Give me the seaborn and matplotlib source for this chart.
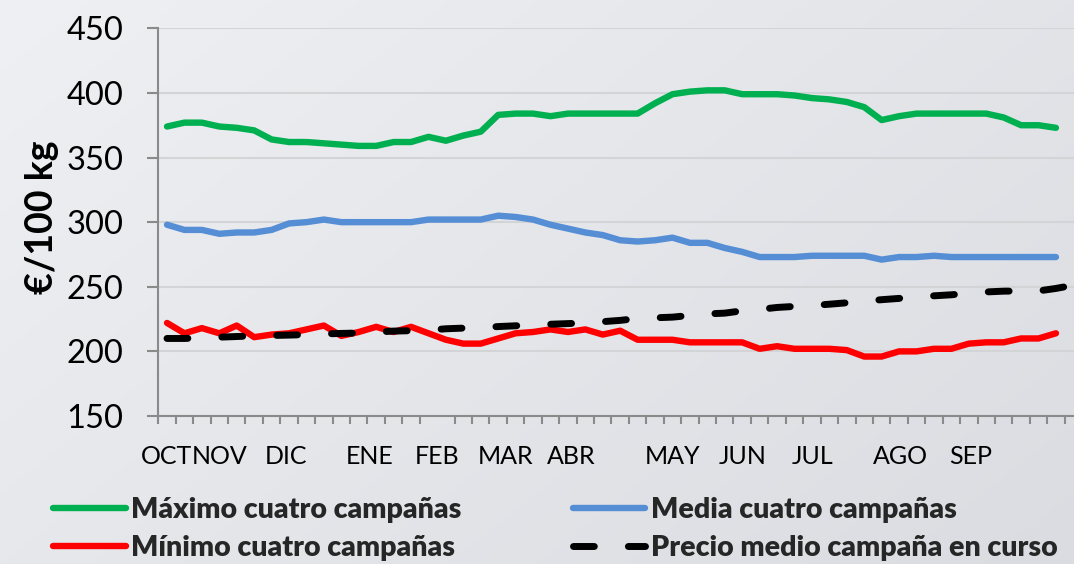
import numpy as np
import pandas as pd
import matplotlib
matplotlib.use("Agg")
import matplotlib.pyplot as plt
import seaborn as sns

# ---------------- data ----------------
meses = ["OCT", "NOV", "DIC", "ENE", "FEB", "MAR", "ABR", "MAY", "JUN", "JUL", "AGO", "SEP"]
pos_meses = [-0.05, 3.0, 6.8, 11.65, 15.5, 19.4, 23.2, 29.0, 33.05, 37.05, 42.1, 46.1]

maximo = [374, 377, 377, 374, 373, 371, 364, 362, 362, 361,
          360, 359, 359, 362, 362, 366, 363, 367, 370, 383,
          384, 384, 382, 384, 384, 384, 384, 384, 392, 399,
          401, 402, 402, 399, 399, 399, 398, 396, 395, 393,
          389, 379, 382, 384, 384, 384, 384, 384, 381, 375,
          375, 373]
media = [298, 294, 294, 291, 292, 292, 294, 299, 300, 302,
         300, 300, 300, 300, 300, 302, 302, 302, 302, 305,
         304, 302, 298, 295, 292, 290, 286, 285, 286, 288,
         284, 284, 280, 277, 273, 273, 273, 274, 274, 274,
         274, 271, 273, 273, 274, 273, 273, 273, 273, 273,
         273, 273]
minimo = [222, 214, 218, 214, 220, 211, 213, 214, 217, 220,
          212, 215, 219, 215, 219, 214, 209, 206, 206, 210,
          214, 215, 217, 215, 217, 213, 216, 209, 209, 209,
          207, 207, 207, 207, 202, 204, 202, 202, 202, 201,
          196, 196, 200, 200, 202, 202, 206, 207, 207, 210,
          210, 214]
en_curso = [210, 210, 210.5, 211, 211.5, 212, 212.3, 212.6, 213, 213.5,
            213.9, 214.2, 215, 215.7, 216, 216.5, 217.5, 218, 218.5, 219.2,
            219.8, 220.5, 221, 221.5, 222, 223, 224, 225.5, 226, 226.5,
            227.8, 229, 229.6, 231.4, 232.5, 234, 234.8, 235.5, 236.5, 237.6,
            238.9, 240, 241, 242.2, 243, 243.8, 245, 246, 246.6, 246.7,
            246.8, 248.7, 251.2]

labels = ["Máximo cuatro campañas", "Media cuatro campañas",
          "Mínimo cuatro campañas", "Precio medio campaña en curso"]
y_ticks = [150, 200, 250, 300, 350, 400, 450]

# ---------------- style ----------------
sns.set_style("white")
plt.rcParams['font.family'] = ['Lato', 'DejaVu Sans']

W, H = 1074, 564
fig = plt.figure(figsize=(W / 100, H / 100), dpi=100)

# gradient background
bg = fig.add_axes([0, 0, 1, 1], zorder=-10)
g = np.linspace(0, 1, 300)
X, Y = np.meshgrid(g, g)
t = (X * 0.6 + Y * 0.4)[..., None]
c0 = np.array([239, 240, 243]) / 255
c1 = np.array([219, 220, 225]) / 255
bg.imshow(c0 + t * (c1 - c0), aspect='auto', extent=[0, 1, 0, 1])
bg.axis('off')

n_cat = 53
ax = fig.add_axes([158.3 / W, 148 / H, n_cat * 17.43 / W, 387.7 / H])
ax.patch.set_alpha(0)

GREEN, BLUE, RED = "#00B050", "#558ED5", "#FF0000"
lw = 4.6

sns.lineplot(x=np.arange(len(maximo)), y=maximo, ax=ax, color=GREEN, lw=lw,
             solid_capstyle='round', label=labels[0], zorder=3)
sns.lineplot(x=np.arange(len(media)), y=media, ax=ax, color=BLUE, lw=lw,
             solid_capstyle='round', label=labels[1], zorder=3)
sns.lineplot(x=np.arange(len(minimo)), y=minimo, ax=ax, color=RED, lw=lw,
             solid_capstyle='round', label=labels[2], zorder=3)
sns.lineplot(x=np.arange(len(en_curso)), y=en_curso, ax=ax, color="black", lw=5,
             linestyle=(0, (3.0, 4.9)), dash_capstyle='round', label=labels[3], zorder=4)

handles, labs = ax.get_legend_handles_labels()
if ax.get_legend() is not None:
    ax.get_legend().remove()

ax.set_xlim(-0.5, n_cat - 0.5)
ax.set_ylim(150, 450)
ax.set_yticks(y_ticks)
ax.set_yticklabels([str(v) for v in y_ticks])
ax.set_xticks(pos_meses)
ax.set_xticklabels(meses)
ax.set_xticks(np.arange(-0.5, n_cat, 1.0), minor=True)

ax.yaxis.grid(True, color="#D3D4D6", lw=1.5)
ax.xaxis.grid(False)
ax.set_axisbelow(True)

for s in ["top", "right"]:
    ax.spines[s].set_visible(False)
for s in ["left", "bottom"]:
    ax.spines[s].set_color("#8A8A8A")
    ax.spines[s].set_linewidth(1.5)

ax.tick_params(axis='y', which='major', length=8, width=1.5, color="#8A8A8A",
               pad=17, labelsize=23.5, labelcolor="black", left=True)
ax.tick_params(axis='x', which='major', length=0, pad=21, labelsize=18,
               labelcolor="black", bottom=True)
ax.tick_params(axis='x', which='minor', length=5.5, width=1.5, color="#8A8A8A",
               bottom=True)

ax.set_xlabel("")
ax.set_ylabel("€/100 kg", fontsize=27, fontweight='bold', color="black")
ax.yaxis.set_label_coords(-0.108, 0.512)

order = [0, 2, 1, 3]
leg = fig.legend([handles[i] for i in order], [labs[i] for i in order],
                 ncol=2, loc='upper left', bbox_to_anchor=(53 / W, 1 - 497 / H),
                 frameon=False, prop=dict(family=['Lato'], weight='heavy', size=20.5),
                 handlelength=2.55, handletextpad=0.2, columnspacing=3.9,
                 labelspacing=0.42, borderpad=0, borderaxespad=0)

fig.savefig("out.png", dpi=100)
